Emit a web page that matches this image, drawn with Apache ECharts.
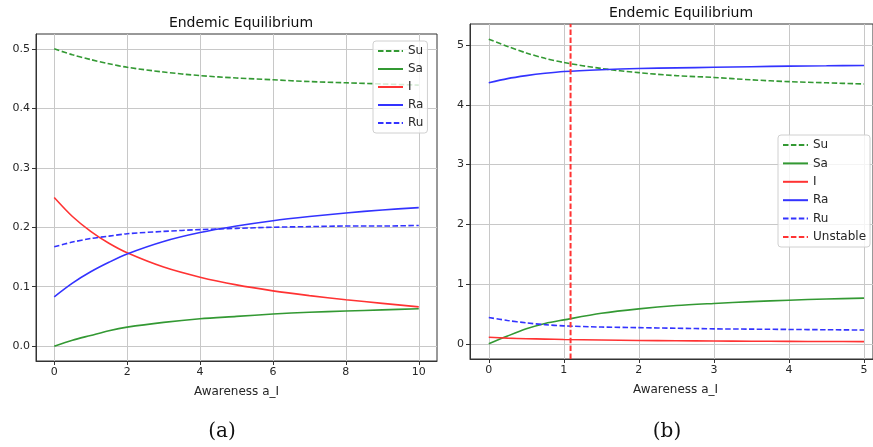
<!DOCTYPE html>
<html>
<head>
<meta charset="utf-8">
<script src="https://cdn.jsdelivr.net/npm/echarts@6/dist/echarts.min.js"></script>
<style>
  html, body { margin: 0; padding: 0; background: #fff; }
  #main { width: 873px; height: 447px; }
</style>
</head>
<body>
<div id="main"></div>
<script>
// panel (a): awareness 0..10
var xA = [0, 0.5, 1, 1.5, 2, 3, 4, 5, 6, 7, 8, 9, 10];
var suA = [0.500, 0.490, 0.482, 0.475, 0.469, 0.461, 0.455, 0.451, 0.448, 0.445, 0.443, 0.441, 0.439];
var saA = [0.000, 0.010, 0.018, 0.026, 0.032, 0.040, 0.046, 0.050, 0.054, 0.057, 0.059, 0.061, 0.063];
var iA = [0.250, 0.218, 0.193, 0.173, 0.157, 0.133, 0.116, 0.103, 0.093, 0.085, 0.078, 0.072, 0.066];
var raA = [0.083, 0.106, 0.125, 0.141, 0.155, 0.176, 0.191, 0.202, 0.211, 0.218, 0.224, 0.229, 0.233];
var ruA = [0.167, 0.175, 0.181, 0.185, 0.189, 0.193, 0.196, 0.198, 0.200, 0.201, 0.202, 0.202, 0.203];

// panel (b): awareness 0..5
var xB = [0, 0.25, 0.5, 0.75, 1, 1.5, 2, 2.5, 3, 3.5, 4, 4.5, 5];
var suB = [5.10, 4.98, 4.87, 4.78, 4.71, 4.61, 4.54, 4.49, 4.46, 4.42, 4.39, 4.37, 4.35];
var saB = [0.00, 0.13, 0.25, 0.34, 0.40, 0.51, 0.585, 0.64, 0.675, 0.705, 0.73, 0.75, 0.765];
var iB = [0.11, 0.095, 0.085, 0.078, 0.072, 0.063, 0.056, 0.050, 0.046, 0.043, 0.040, 0.038, 0.036];
var raB = [4.37, 4.44, 4.49, 4.53, 4.56, 4.59, 4.61, 4.62, 4.63, 4.64, 4.65, 4.655, 4.66];
var ruB = [0.44, 0.39, 0.35, 0.32, 0.30, 0.28, 0.27, 0.26, 0.25, 0.245, 0.24, 0.235, 0.23];
var unstableX = 1.09;

var ticksA = [0, 2, 4, 6, 8, 10];
var yTicksA = [0, 0.1, 0.2, 0.3, 0.4, 0.5];
var ticksB = [0, 1, 2, 3, 4, 5];
var yTicksB = [0, 1, 2, 3, 4, 5];

var GREEN = "#339933", RED = "#ff3333", BLUE = "#3333ff";
var DASH = [5.5, 2.4];
var FONT = "DejaVu Sans";

function pairs(xs, ys) {
  return xs.map(function (x, i) { return [x, ys[i]]; });
}

function line(name, xs, ys, color, dashed, idx) {
  return {
    name: name,
    type: "line",
    xAxisIndex: idx,
    yAxisIndex: idx,
    data: pairs(xs, ys),
    smooth: 0.3,
    symbol: "none",
    silent: true,
    lineStyle: { color: color, width: 1.6, type: dashed ? DASH : "solid" },
    itemStyle: { color: color }
  };
}

function xAxis(idx, min, max, ticks, shift) {
  return {
    type: "value",
    gridIndex: idx,
    min: min,
    max: max,
    name: "Awareness a_I",
    nameLocation: "middle",
    nameGap: 25,
    nameTextStyle: { fontFamily: FONT, fontSize: 12, color: "#262626", padding: [0, 0, 0, shift] },
    axisLine: { show: true, onZero: false, lineStyle: { color: "#333", width: 1 } },
    axisTick: { show: true, length: 4, customValues: ticks, lineStyle: { color: "#333" } },
    axisLabel: { customValues: ticks, fontFamily: FONT, fontSize: 11, color: "#262626", margin: 6 },
    splitLine: { show: true, lineStyle: { color: "#c8c8c8", width: 1 } }
  };
}

function yAxis(idx, min, max, ticks, digits) {
  return {
    type: "value",
    gridIndex: idx,
    min: min,
    max: max,
    axisLine: { show: true, onZero: false, lineStyle: { color: "#333", width: 1 } },
    axisTick: { show: true, length: 4, customValues: ticks, lineStyle: { color: "#333" } },
    axisLabel: {
      customValues: ticks, fontFamily: FONT, fontSize: 11, color: "#262626", margin: 6,
      formatter: function (v) { return v.toFixed(digits); }
    },
    splitLine: { show: true, lineStyle: { color: "#c8c8c8", width: 1 } }
  };
}

function legend(names, left, top, gap) {
  return {
    data: names,
    orient: "vertical", left: left, top: top,
    itemWidth: 25, itemHeight: 12, itemGap: gap,
    padding: [4, 4, 4, 4],
    itemStyle: { opacity: 0 },
    backgroundColor: "rgba(255,255,255,0.8)", borderColor: "#d0d0d0", borderWidth: 1, borderRadius: 3,
    textStyle: { fontFamily: FONT, fontSize: 12, color: "#262626" },
    selectedMode: false
  };
}

var chart = echarts.init(document.getElementById("main"));
chart.setOption({
  animation: false,
  backgroundColor: "#fff",
  title: [
    { text: "Endemic Equilibrium", left: 236, top: 11, textAlign: "center",
      textStyle: { fontFamily: FONT, fontSize: 14, fontWeight: "normal", color: "#111" } },
    { text: "Endemic Equilibrium", left: 676, top: 1, textAlign: "center",
      textStyle: { fontFamily: FONT, fontSize: 14, fontWeight: "normal", color: "#111" } }
  ],
  grid: [
    { left: 36, top: 34, width: 401, height: 327, show: true, borderColor: "#333", borderWidth: 1 },
    // the right panel is cut off by the picture's edge
    { left: 470, top: 24, right: 0, height: 335, show: true, borderColor: "#333", borderWidth: 1 }
  ],
  legend: [
    legend(["Su", "Sa", "I", "Ra", "Ru"], 373, 41, 6),
    legend(["Su", "Sa", "I", "Ra", "Ru", "Unstable"], 778, 135, 6.4)
  ],
  xAxis: [xAxis(0, -0.5, 10.5, ticksA, 0), xAxis(1, -0.25, 5.12, ticksB, 8)],
  yAxis: [yAxis(0, -0.025, 0.525, yTicksA, 1), yAxis(1, -0.255, 5.355, yTicksB, 0)],
  series: [
    line("Su", xA, suA, GREEN, true, 0),
    line("Sa", xA, saA, GREEN, false, 0),
    line("I", xA, iA, RED, false, 0),
    line("Ra", xA, raA, BLUE, false, 0),
    line("Ru", xA, ruA, BLUE, true, 0),
    line("Su", xB, suB, GREEN, true, 1),
    line("Sa", xB, saB, GREEN, false, 1),
    line("I", xB, iB, RED, false, 1),
    line("Ra", xB, raB, BLUE, false, 1),
    line("Ru", xB, ruB, BLUE, true, 1),
    {
      name: "Unstable",
      type: "line",
      xAxisIndex: 1,
      yAxisIndex: 1,
      data: [[unstableX, -0.255], [unstableX, 5.355]],
      symbol: "none",
      silent: true,
      lineStyle: { color: RED, width: 2, type: DASH },
      itemStyle: { color: RED }
    }
  ],
  graphic: [
    { type: "text", x: 222, y: 422,
      style: { text: "(a)", fontFamily: "DejaVu Serif", fontSize: 20, fill: "#111", textAlign: "center" } },
    { type: "text", x: 667, y: 422,
      style: { text: "(b)", fontFamily: "DejaVu Serif", fontSize: 20, fill: "#111", textAlign: "center" } }
  ]
});
</script>
</body>
</html>
